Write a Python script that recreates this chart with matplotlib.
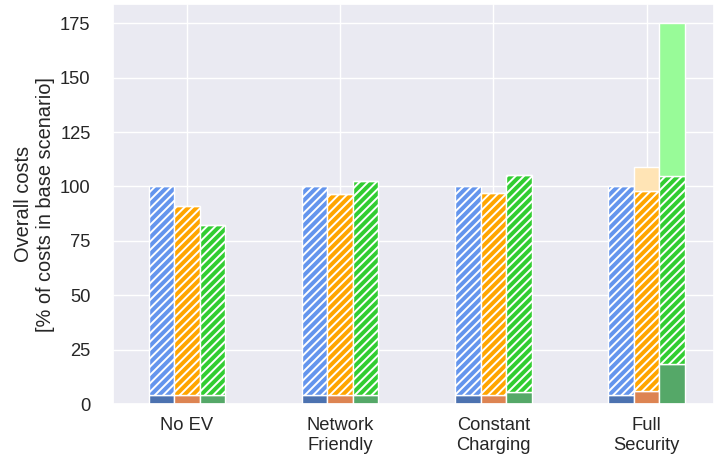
import numpy as np
import matplotlib
matplotlib.use("Agg")
import matplotlib.pyplot as plt
import seaborn as sns

# scenarios on the x axis
scenarios = ["No EV", "Network\nFriendly", "Constant\nCharging", "Full\nSecurity"]

# bottom (solid) part of each bar
base_blue = [4.2, 4.2, 4.2, 4.2]
base_orange = [4.2, 4.2, 4.2, 6.0]
base_green = [4.2, 4.2, 5.7, 18.3]

# total height of the hatched part (top of hatch)
hatch_blue = [100.0, 100.1, 100.1, 100.1]
hatch_orange = [90.9, 96.6, 97.0, 97.8]
hatch_green = [82.5, 102.4, 105.2, 104.7]

# extra (light) part on top, total height
top_orange = [90.9, 96.6, 97.0, 109.0]
top_green = [82.5, 102.4, 105.2, 175.3]

sns.set_theme(style="darkgrid", font_scale=1.2)
plt.rcParams['font.family'] = ['Liberation Sans', 'DejaVu Sans']
plt.rcParams['hatch.linewidth'] = 1.4

fig = plt.figure(figsize=(7.14, 4.59), dpi=100)
ax = fig.add_axes([0.158, 0.1198, 0.842, 0.8708])

x = np.arange(len(scenarios))
w = 1/6.

series = [
    (-w, base_blue, hatch_blue, hatch_blue, "#4C72B0", "cornflowerblue", "cornflowerblue"),
    (0, base_orange, hatch_orange, top_orange, "#DD8452", "orange", "moccasin"),
    (w, base_green, hatch_green, top_green, "#55A868", "limegreen", "palegreen"),
]

for off, base, hat, top, c_base, c_hat, c_top in series:
    base = np.array(base)
    hat = np.array(hat)
    top = np.array(top)
    ax.bar(x + off, base, w, color=c_base, edgecolor="white", linewidth=1, zorder=2)
    ax.bar(x + off, hat - base, w, bottom=base, color=c_hat, edgecolor="white",
           hatch="////", linewidth=1, zorder=2)
    ax.bar(x + off, top - hat, w, bottom=hat, color=c_top, edgecolor="white",
           linewidth=1, zorder=2)

ax.set_xticks(x)
ax.set_xticklabels(scenarios)
ax.set_yticks([0, 25, 50, 75, 100, 125, 150, 175])
ax.tick_params(axis='y', pad=10)
ax.set_xlim(-0.483, 3.44)
ax.set_ylim(0, 183.75)
ax.set_ylabel("Overall costs\n[% of costs in base scenario]", labelpad=3.5)
ax.set_axisbelow(True)

fig.savefig("out.png", dpi=100)
